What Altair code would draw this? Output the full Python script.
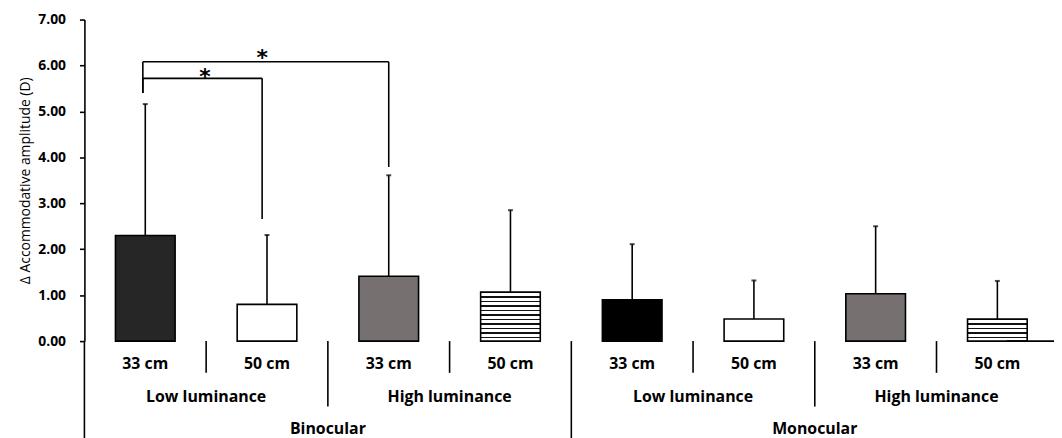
import altair as alt
import pandas as pd

# ---- data ----
views = ["Binocular"] * 4 + ["Monocular"] * 4
luminance = ["Low luminance", "Low luminance", "High luminance", "High luminance"] * 2
distance = ["33 cm", "50 cm"] * 4
means = [2.30, 0.80, 1.41, 1.07, 0.90, 0.48, 1.03, 0.48]
sds = [2.86, 1.51, 2.20, 1.78, 1.21, 0.84, 1.47, 0.83]
fills = ["#262626", "#ffffff", "#767170", "stripes", "#000000", "#ffffff", "#767170", "stripes"]

# significance brackets (inner, outer)
br_x1 = [0.48, 0.48]
br_x2 = [1.46, 2.50]
br_level = [5.72, 6.08]
br_left_end = [5.40, 5.40]
br_right_end = [2.66, 3.79]
star_x = [0.99, 1.46]
star_y = [5.86, 6.26]

W, H = 969, 324
XMAX = 7.9
FONT = "Open Sans"

df = pd.DataFrame({
    "view": views, "lum": luminance, "dist": distance,
    "mean": means, "sd": sds, "fill": fills,
})
df["pos"] = [i + 0.5 for i in range(len(df))]
df["x1"] = df["pos"] - 0.245
df["x2"] = df["pos"] + 0.245
df["top"] = df["mean"] + df["sd"]
df["idx"] = list(range(len(df)))

xs = alt.Scale(domain=[0, XMAX], nice=False, zero=False)
ys = alt.Scale(domain=[0, 7], nice=False)

base = alt.Chart(df)

# error bars (upper only)
err = base.mark_rule(color="black", strokeWidth=1.6).encode(
    x=alt.X("pos:Q", scale=xs, axis=None), y=alt.Y("mean:Q", scale=ys), y2="top:Q")
cap = base.mark_tick(orient="horizontal", size=5, thickness=2, color="black").encode(
    x=alt.X("pos:Q", scale=xs), y=alt.Y("top:Q", scale=ys))

layers = [err, cap]

# solid bars
solid = base.transform_filter(alt.datum.fill != "stripes").mark_bar(
    stroke="black", strokeWidth=1.6).encode(
    x=alt.X("x1:Q", scale=xs,
            axis=alt.Axis(domain=True, domainColor="black", domainWidth=1.6,
                          ticks=False, labels=False, grid=False, title=None)),
    x2="x2:Q",
    y=alt.Y("mean:Q", scale=ys,
            axis=alt.Axis(values=[0, 1, 2, 3, 4, 5, 6, 7], format=".2f", grid=False,
                          domainColor="black", domainWidth=1.6, tickColor="black",
                          tickWidth=1.6, tickSize=5, labelPadding=14,
                          labelFont=FONT, labelFontWeight="bold", labelFontSize=14,
                          labelColor="black", title="Δ Accommodative amplitude (D)",
                          titleFont=FONT, titleFontWeight="normal", titleFontSize=14,
                          titleColor="black", titlePadding=5)),
    y2=alt.datum(0),
    fill=alt.Color("fill:N", scale=None),
)
layers.insert(0, solid)

# striped bars via sharp-stop gradients
for i, f in enumerate(fills):
    if f != "stripes":
        continue
    hpx = means[i] / 7 * H
    n = max(1, round(hpx / 4.4))
    stops = []
    for k in range(n):
        a = k / n
        b = (k + 0.32) / n
        c = (k + 1) / n
        stops += [alt.GradientStop(offset=a, color="#111111"),
                  alt.GradientStop(offset=b, color="#111111"),
                  alt.GradientStop(offset=b, color="#ffffff"),
                  alt.GradientStop(offset=c, color="#ffffff")]
    grad = alt.LinearGradient(gradient="linear", stops=stops, x1=0, x2=0, y1=0, y2=1)
    sb = base.transform_filter(alt.datum.idx == i).mark_bar(
        fill=grad, stroke="black", strokeWidth=1.6).encode(
        x=alt.X("x1:Q", scale=xs), x2="x2:Q",
        y=alt.Y("mean:Q", scale=ys), y2=alt.datum(0))
    layers.insert(1, sb)

# significance brackets
segs = []
for j in range(len(br_x1)):
    segs.append({"x": br_x1[j], "x2": br_x2[j], "y": br_level[j], "y2": br_level[j]})
    segs.append({"x": br_x1[j], "x2": br_x1[j], "y": br_level[j], "y2": br_left_end[j]})
    segs.append({"x": br_x2[j], "x2": br_x2[j], "y": br_level[j], "y2": br_right_end[j]})
seg_df = pd.DataFrame(segs)
brackets = alt.Chart(seg_df).mark_rule(color="black", strokeWidth=1.6).encode(
    x=alt.X("x:Q", scale=xs), x2="x2:Q", y=alt.Y("y:Q", scale=ys), y2="y2:Q")
stars = alt.Chart(pd.DataFrame({"x": star_x, "y": star_y, "t": ["*", "*"]})).mark_text(
    font="DejaVu Sans", fontSize=22, fontWeight="bold", color="black", baseline="middle",
    dy=5).encode(
    x=alt.X("x:Q", scale=xs), y=alt.Y("y:Q", scale=ys), text="t:N")
layers += [brackets, stars]

# baseline extension to the right edge
ext = alt.Chart(pd.DataFrame({"a": [0]})).mark_rule(color="black", strokeWidth=1.6).encode(
    x=alt.value(W - 40), x2=alt.value(W + 10), y=alt.value(H))
layers.append(ext)

# hierarchical category axis
TXT = dict(font=FONT, fontSize=16, fontWeight="bold", color="black", baseline="middle")
dist_lab = base.mark_text(**TXT).encode(
    x=alt.X("pos:Q", scale=xs), y=alt.value(H + 23), text="dist:N")

lum_df = pd.DataFrame({"lum": luminance[::2], "pos": [2 * k + 1 for k in range(4)]})
lum_lab = alt.Chart(lum_df).mark_text(**TXT).encode(
    x=alt.X("pos:Q", scale=xs), y=alt.value(H + 56), text="lum:N")

view_df = pd.DataFrame({"view": views[::4], "pos": [2, 6]})
view_lab = alt.Chart(view_df).mark_text(**TXT).encode(
    x=alt.X("pos:Q", scale=xs), y=alt.value(H + 89), text="view:N")

div_df = pd.DataFrame({
    "x": [1, 3, 5, 7, 2, 6, 0, 4],
    "len": [32, 32, 32, 32, 66, 66, 100, 100],
})
div_df["y0"] = H
div_df["y1"] = H + div_df["len"]
dividers = alt.Chart(div_df).mark_rule(color="black", strokeWidth=1.6).encode(
    x=alt.X("x:Q", scale=xs), y=alt.Y("y0:Q", scale=None), y2="y1:Q")

layers += [dividers, dist_lab, lum_lab, view_lab]

chart = alt.layer(*layers).properties(
    width=W, height=H,
    autosize=alt.AutoSizeParams(type="none"),
    padding={"left": 77, "top": 10, "right": 8, "bottom": 96},
).configure_view(stroke=None).configure_axis(grid=False)

chart.save("out.html", embed_options={"renderer": "svg", "actions": False})
